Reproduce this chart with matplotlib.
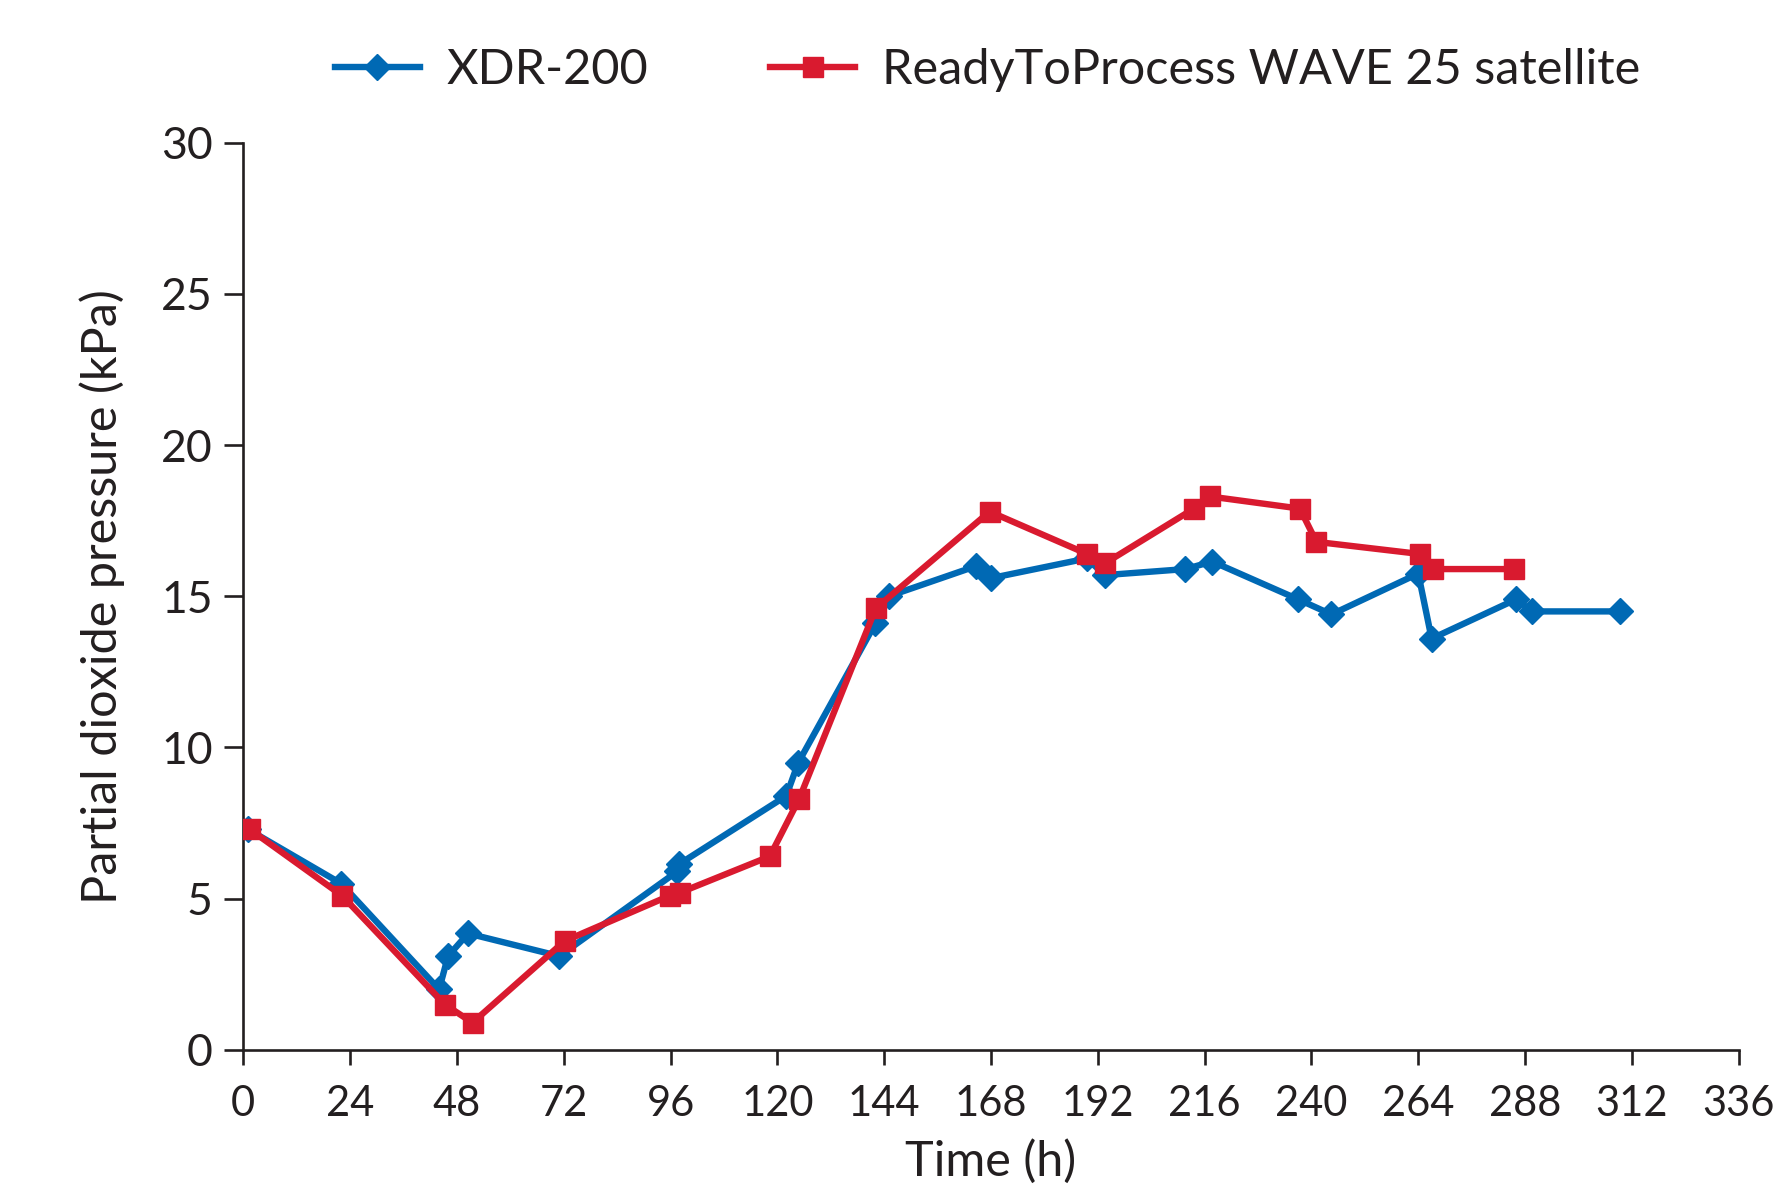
import matplotlib
matplotlib.use("Agg")
import matplotlib.pyplot as plt

# XDR-200 run
xdr_t = [1, 22, 44, 46, 50.5, 71, 97.5, 98, 122, 124.7, 142, 145, 164.7, 168,
         189.5, 193.6, 211.7, 217.7, 237, 244.5, 264, 267, 286, 289.6, 309.3]
xdr_p = [7.3, 5.5, 2.0, 3.1, 3.85, 3.1, 5.9, 6.15, 8.4, 9.5, 14.1, 15.0, 16.0, 15.6,
         16.25, 15.7, 15.9, 16.15, 14.9, 14.4, 15.75, 13.6, 14.9, 14.5, 14.5]

# ReadyToProcess WAVE 25 satellite run
wave_t = [1.4, 22.2, 45.3, 51.5, 72.2, 95.8, 98.1, 118.3, 124.9, 142.1, 167.7,
          189.6, 193.7, 213.6, 217.2, 237.4, 241.1, 264.3, 267.3, 285.5]
wave_p = [7.3, 5.1, 1.5, 0.9, 3.6, 5.1, 5.2, 6.4, 8.3, 14.6, 17.8,
          16.4, 16.1, 17.9, 18.3, 17.9, 16.8, 16.4, 15.9, 15.9]

x_ticks = list(range(0, 337, 24))
y_ticks = [0, 5, 10, 15, 20, 25, 30]

BLUE = "#0069b4"
RED = "#d91a2f"
INK = "#231f20"

plt.rcParams.update({"font.family": ["Lato", "DejaVu Sans"], "font.size": 31,
                     "text.color": INK, "axes.labelcolor": INK,
                     "xtick.color": INK, "ytick.color": INK})

fig = plt.figure(figsize=(17.76, 11.89), dpi=100)
ax = fig.add_axes([0.137, 0.117, 0.842, 0.763])

ax.plot(xdr_t, xdr_p, color=BLUE, lw=4.6, marker="D", ms=13, mec=BLUE,
        label="XDR-200", zorder=3)
ax.plot(wave_t, wave_p, color=RED, lw=4.6, marker="s", ms=15, mec=RED,
        label="ReadyToProcess WAVE 25 satellite", zorder=4)

ax.set_xlim(0, 336)
ax.set_ylim(0, 30)
ax.set_xticks(x_ticks)
ax.set_yticks(y_ticks)
for s in ("top", "right"):
    ax.spines[s].set_visible(False)
for s in ("left", "bottom"):
    ax.spines[s].set_color(INK)
    ax.spines[s].set_linewidth(1.9)
ax.tick_params(axis="y", length=14, width=1.9, pad=8, labelsize=32)
ax.tick_params(axis="x", length=11, width=1.9, pad=14, labelsize=30)

ax.set_xlabel("Time (h)", fontsize=35, labelpad=12)
ax.set_ylabel("Partial dioxide pressure (kPa)", fontsize=35, labelpad=26)

fig.legend(loc="center", bbox_to_anchor=(0.556, 0.941), ncol=2,
           frameon=False, fontsize=35, handlelength=1.75, columnspacing=2.5,
           handletextpad=0.55)

fig.savefig("out.png", dpi=100, facecolor="white")
